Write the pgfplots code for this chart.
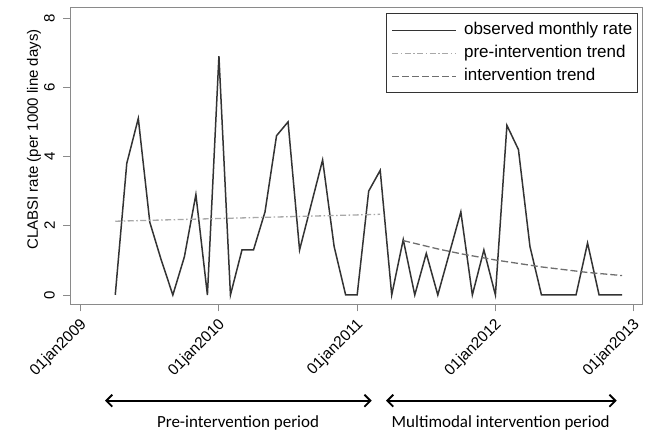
\documentclass[border=0pt]{standalone}
\usepackage{fontspec}
\setmainfont{Liberation Sans}
\newfontfamily\calfont{Carlito}
\usepackage{pgfplots}
\pgfplotsset{compat=1.18}
\usetikzlibrary{arrows.meta}
\definecolor{obs}{HTML}{333333}
\definecolor{pre}{HTML}{A8A8A8}
\definecolor{intv}{HTML}{6E6E6E}
\definecolor{axgray}{HTML}{8A8A8A}

\begin{document}
\begin{tikzpicture}[x=1pt,y=1pt]
\path (0,0) rectangle (652,431);
\begin{axis}[
  at={(70.5pt,126.7pt)}, anchor=south west,
  scale only axis, width=572pt, height=297pt,
  xmin=-0.885, xmax=48.77, ymin=-0.27, ymax=8.31,
  xtick={0,12,24,36,48},
  xticklabels={},
  ytick={0,2,4,6,8},
  yticklabels={},
  tick pos=left,
  tick align=outside,
  major tick length=7pt,
  axis line style={axgray, line width=0.9pt},
  every tick/.style={axgray, line width=0.9pt},
  ylabel={CLABSI rate (per 1000 line days)},
  every axis y label/.style={at={(axis description cs:-0.064,0.555)}, rotate=90, anchor=center, font=\fontsize{15}{18}\selectfont},
  legend style={at={(axis description cs:0.9916,0.9798)}, anchor=north east,
    draw=obs, line width=0.9pt, inner xsep=5pt, inner ysep=8.5pt,
    font=\fontsize{17}{20}\selectfont, text=black,
    nodes={inner sep=0pt, text height=12pt, text depth=4pt},
    row sep=7pt},
  legend cell align=left,
  legend image code/.code={\draw[#1] (0pt,0pt) -- (64pt,0pt);},
  /tikz/every odd column/.append style={column sep=7pt},
  clip=false,
]
\addplot[obs, line width=1.5pt] coordinates {
(3,0) (4,3.8) (5,5.1) (6,2.1) (7,1.0) (8,0) (9,1.1) (10,2.9) (11,0) (12,6.9)
(13,0) (14,1.3) (15,1.3) (16,2.4) (17,4.6) (18,5.0) (19,1.3) (20,2.6) (21,3.9) (22,1.4)
(23,0) (24,0) (25,3.0) (26,3.6) (27,0) (28,1.6) (29,0) (30,1.2) (31,0) (32,1.2)
(33,2.4) (34,0) (35,1.3) (36,0) (37,4.9) (38,4.2) (39,1.4) (40,0) (41,0) (42,0)
(43,0) (44,1.5) (45,0) (46,0) (47,0)
};
\addlegendentry{observed monthly rate\hspace{6pt}}
\addplot[pre, line width=1.3pt, dash pattern=on 6pt off 2.5pt on 1.5pt off 2.5pt] coordinates {
(3,2.13) (26,2.33)
};
\addlegendentry{pre-intervention trend}
\addplot[intv, line width=1.3pt, dash pattern=on 7pt off 3pt] coordinates {
(28,1.57) (29,1.49) (30,1.41) (31,1.33) (32,1.26) (33,1.19) (34,1.13) (35,1.07)
(36,1.01) (37,0.96) (38,0.91) (39,0.86) (40,0.81) (41,0.77) (42,0.73) (43,0.69)
(44,0.65) (45,0.62) (46,0.59) (47,0.56)
};
\addlegendentry{intervention trend}
% x tick labels
\node[rotate=45, anchor=north east, inner sep=0pt, font=\fontsize{15.5}{18}\selectfont] at ([xshift=-1.6pt,yshift=-12.4pt]axis cs:0,-0.27) {01jan2009};
\node[rotate=45, anchor=north east, inner sep=0pt, font=\fontsize{15.5}{18}\selectfont] at ([xshift=-1.6pt,yshift=-12.4pt]axis cs:12,-0.27) {01jan2010};
\node[rotate=45, anchor=north east, inner sep=0pt, font=\fontsize{15.5}{18}\selectfont] at ([xshift=-1.6pt,yshift=-12.4pt]axis cs:24,-0.27) {01jan2011};
\node[rotate=45, anchor=north east, inner sep=0pt, font=\fontsize{15.5}{18}\selectfont] at ([xshift=-1.6pt,yshift=-12.4pt]axis cs:36,-0.27) {01jan2012};
\node[rotate=45, anchor=north east, inner sep=0pt, font=\fontsize{15.5}{18}\selectfont] at ([xshift=-1.6pt,yshift=-12.4pt]axis cs:48,-0.27) {01jan2013};
% y tick labels
\node[rotate=90, anchor=south, inner sep=0pt, font=\fontsize{15}{18}\selectfont] at ([xshift=-15.5pt]axis cs:-0.885,0) {0};
\node[rotate=90, anchor=south, inner sep=0pt, font=\fontsize{15}{18}\selectfont] at ([xshift=-15.5pt]axis cs:-0.885,2) {2};
\node[rotate=90, anchor=south, inner sep=0pt, font=\fontsize{15}{18}\selectfont] at ([xshift=-15.5pt]axis cs:-0.885,4) {4};
\node[rotate=90, anchor=south, inner sep=0pt, font=\fontsize{15}{18}\selectfont] at ([xshift=-15.5pt]axis cs:-0.885,6) {6};
\node[rotate=90, anchor=south, inner sep=0pt, font=\fontsize{15}{18}\selectfont] at ([xshift=-15.5pt]axis cs:-0.885,8) {8};
\end{axis}
\draw[line width=1.8pt, {Straight Barb[length=6pt,width=12pt]}-{Straight Barb[length=6pt,width=12pt]}] (105,30.3) -- (371.7,30.3);
\draw[line width=1.8pt, {Straight Barb[length=6pt,width=12pt]}-{Straight Barb[length=6pt,width=12pt]}] (386,30.3) -- (616.7,30.3);
\node[font=\calfont\fontsize{17}{20}\selectfont, inner sep=0pt] at (238,8.5) {Pre-intervention period};
\node[font=\calfont\fontsize{17}{20}\selectfont, inner sep=0pt] at (500.7,8.5) {Multimodal intervention period};
\end{tikzpicture}
\end{document}
